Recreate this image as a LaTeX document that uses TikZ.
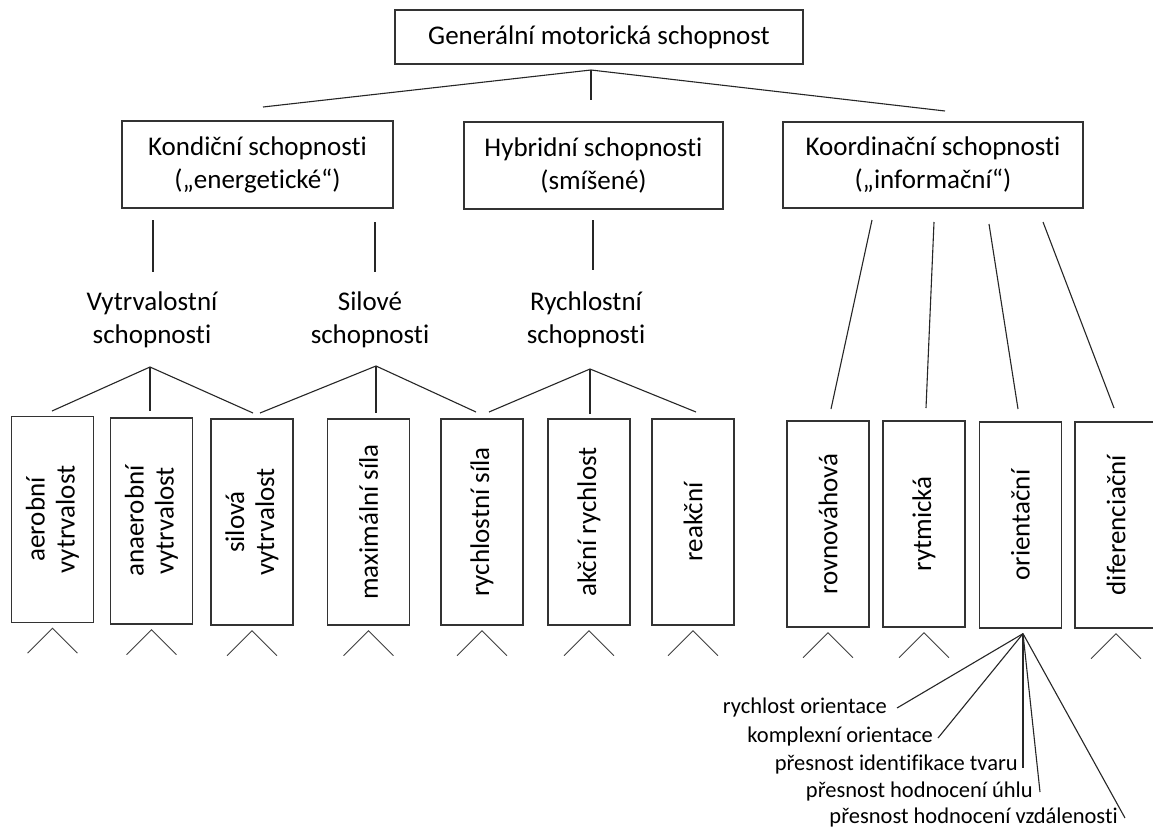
\documentclass[tikz,border=0pt]{standalone}
\usepackage{fontspec}
\setmainfont[Ligatures=CommonOff]{Carlito}
\usetikzlibrary{calc}
\newcommand\bigfnt{\fontsize{27}{33}\selectfont}
\newcommand\vfnt{\fontsize{27}{30}\selectfont}
\newcommand\smallfnt{\fontsize{22.5}{27}\selectfont}
\tikzset{
 box/.style={draw=black!80, line width=1.3pt, inner sep=0pt, align=center, font=\bigfnt},
 vbox/.style={draw=black!80, line width=1.3pt, inner sep=0pt, minimum width=82pt, minimum height=206pt},
 vtext/.style={rotate=90, align=center, font=\vfnt, inner sep=0pt},
 lbl/.style={align=center, font=\bigfnt, inner sep=0pt},
 item/.style={font=\smallfnt, inner sep=0pt, anchor=east},
 conn/.style={draw=black!85, line width=1.1pt},
 caret/.style={draw=black!75, line width=0.9pt},
}
\begin{document}
\begin{tikzpicture}[x=1pt,y=-1pt]
\useasboundingbox (0,0) rectangle (1153,830);
\clip (0,0) rectangle (1153,830);
\fill[white] (0,0) rectangle (1153,830);

% level 0 and 1
\node[box, minimum width=408pt, minimum height=54pt] (gen) at (599,37) {Generální motorická schopnost};
\node[box, minimum width=271pt, minimum height=87pt] (kond) at (257.5,164.5) {Kondiční schopnosti\\(„energetické“)};
\node[box, minimum width=259pt, minimum height=87pt] (hyb) at (593.5,165.5) {Hybridní schopnosti\\(smíšené)};
\node[box, minimum width=300pt, minimum height=86pt] (koord) at (933,165) {Koordinační schopnosti\\(„informační“)};

% level 2 labels
\node[lbl] (vyt) at (152,320) {Vytrvalostní\\schopnosti};
\node[lbl] (sil) at (370,320) {Silové\\schopnosti};
\node[lbl] (rych) at (586,320) {Rychlostní\\schopnosti};

% top fork
\coordinate (ga) at (591,70);
\coordinate (gl) at (263,107);
\coordinate (gr) at (945,111);
\coordinate (gv) at (591,100);
\draw[conn] (gl) -- (ga) -- (gr);
\draw[conn] (ga) -- (gv);

% level 1 -> 2 verticals
\coordinate (k1a) at (153,220); \coordinate (k1b) at (153,272);
\coordinate (k2a) at (375,222); \coordinate (k2b) at (375,272);
\coordinate (h1a) at (593,220); \coordinate (h1b) at (593,270);
\draw[conn] (k1a) -- (k1b);
\draw[conn] (k2a) -- (k2b);
\draw[conn] (h1a) -- (h1b);

% koordinacni lines
\coordinate (c1a) at (872,220); \coordinate (c1b) at (831,409);
\coordinate (c2a) at (934,222); \coordinate (c2b) at (926,408);
\coordinate (c3a) at (989,224); \coordinate (c3b) at (1018,409);
\coordinate (c4a) at (1043,222); \coordinate (c4b) at (1114,408);
\draw[conn] (c1a) -- (c1b);
\draw[conn] (c2a) -- (c2b);
\draw[conn] (c3a) -- (c3b);
\draw[conn] (c4a) -- (c4b);

% level 2 -> 3 forks
\coordinate (va) at (150,367);
\coordinate (v1) at (52,411); \coordinate (v2) at (150,411); \coordinate (v3) at (253,413);
\draw[conn] (v1) -- (va) -- (v3); \draw[conn] (va) -- (v2);
\coordinate (sa) at (376,366);
\coordinate (s1) at (260,413); \coordinate (s2) at (376,413); \coordinate (s3) at (476,412);
\draw[conn] (s1) -- (sa) -- (s3); \draw[conn] (sa) -- (s2);
\coordinate (ra) at (590,369);
\coordinate (r1) at (489,412); \coordinate (r2) at (590,414); \coordinate (r3) at (696,412);
\draw[conn] (r1) -- (ra) -- (r3); \draw[conn] (ra) -- (r2);

% level 3 boxes
\node[vbox] (b1) at (52.5,519.5) {};
\node[vtext] (t1) at (b1) {aerobní\\vytrvalost};
\node[vbox] (b2) at (151.5,521) {};
\node[vtext] (t2) at (b2) {anaerobní\\vytrvalost};
\node[vbox] (b3) at (252,522) {};
\node[vtext] (t3) at (b3) {silová\\vytrvalost};
\node[vbox] (b4) at (368.5,522) {};
\node[vtext] (t4) at (b4) {maximální síla};
\node[vbox] (b5) at (482,522) {};
\node[vtext] (t5) at (b5) {rychlostní síla};
\node[vbox] (b6) at (589,522) {};
\node[vtext] (t6) at (b6) {akční rychlost};
\node[vbox] (b7) at (693,522) {};
\node[vtext] (t7) at (b7) {reakční};
\node[vbox] (b8) at (828,524) {};
\node[vtext] (t8) at (b8) {rovnováhová};
\node[vbox] (b9) at (924,524) {};
\node[vtext] (t9) at (b9) {rytmická};
\node[vbox] (b10) at (1020.5,525) {};
\node[vtext] (t10) at (b10) {orientační};
\node[vbox] (b11) at (1116,525) {};
\node[vtext] (t11) at (b11) {diferenciační};

% carets
\foreach \b in {b1,b2,b3,b4,b5,b6,b7,b8,b9,b11}
  \draw[caret] ($(\b.south)+(-25,30)$) -- ($(\b.south)+(0,5)$) -- ($(\b.south)+(25,30)$);

% orientacni fan
\coordinate (fa) at ($(b10.south)+(2.5,5)$);
\node[item] (f1) at (887,707) {rychlost orientace};
\node[item] (f2) at (933,736) {komplexní orientace};
\node[item] (f3) at (1018,764) {přesnost identifikace tvaru};
\node[item] (f4) at (1033,791) {přesnost hodnocení úhlu};
\node[item] (f5) at (1118,817) {přesnost hodnocení vzdálenosti};
\draw[conn] (fa) -- ($(f1.east)+(10,1)$);
\draw[conn] (fa) -- ($(f2.east)+(5,2)$);
\draw[conn] (fa) -- ($(f3.east)+(5,4)$);
\draw[conn] (fa) -- ($(f4.east)+(7,1)$);
\draw[conn] (fa) -- ($(f5.east)+(7,1)$);
\end{tikzpicture}
\end{document}
